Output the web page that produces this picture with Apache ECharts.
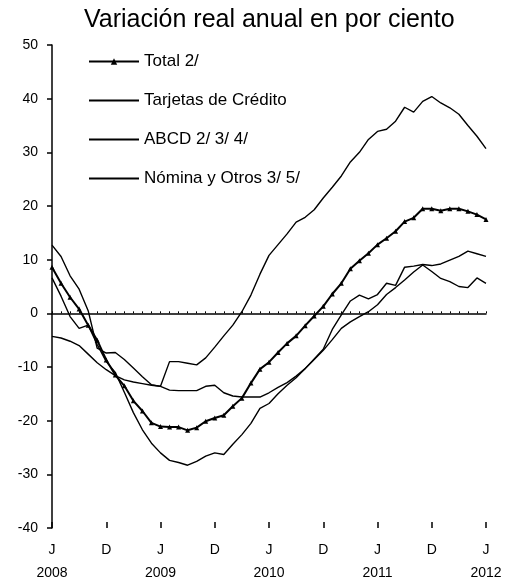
<!DOCTYPE html>
<html>
<head>
<meta charset="utf-8">
<script src="https://cdn.jsdelivr.net/npm/echarts@6/dist/echarts.min.js"></script>
<style>
  html, body { margin: 0; padding: 0; background: #fff; }
  #chart { width: 509px; height: 585px; }
</style>
</head>
<body>
<div id="chart"></div>
<script>
// meses: ene-2008 .. ene-2012 (49 observaciones)
var months = [];
for (var y = 2008; y <= 2012; y++) {
  for (var m = 1; m <= 12; m++) {
    if (y === 2012 && m > 1) break;
    months.push(y + '-' + (m < 10 ? '0' + m : m));
  }
}
var tickLabels = ['J\n2008', 'D', 'J\n2009', 'D', 'J\n2010', 'D', 'J\n2011', 'D', 'J\n2012'];
var yTicks = [-40, -30, -20, -10, 0, 10, 20, 30, 40, 50];

var total = [8.6, 5.6, 3.0, 0.8, -2.2, -5.0, -8.7, -11.5, -13.5, -16.3, -18.2, -20.4,
  -21.1, -21.2, -21.2, -21.8, -21.3, -20.1, -19.5, -19.0, -17.3, -15.8, -13.0, -10.4,
  -9.1, -7.3, -5.6, -4.2, -2.3, -0.5, 1.3, 3.6, 5.6, 8.3, 9.8, 11.2,
  12.8, 14.0, 15.3, 17.1, 17.8, 19.5, 19.5, 19.1, 19.5, 19.5, 19.0, 18.4, 17.5];
var tarjetas = [12.7, 10.6, 7.0, 4.5, 0.5, -6.5, -7.4, -7.3, -8.6, -10.2, -11.8, -13.3,
  -13.6, -9.0, -9.0, -9.3, -9.6, -8.3, -6.3, -4.2, -2.2, 0.3, 3.4, 7.3,
  10.8, 12.8, 14.8, 17.0, 17.9, 19.3, 21.5, 23.5, 25.6, 28.2, 30.0, 32.4,
  33.9, 34.3, 35.8, 38.4, 37.5, 39.5, 40.4, 39.2, 38.3, 37.1, 35.0, 33.0, 30.7];
var abcd = [6.6, 3.2, -0.6, -2.8, -2.2, -5.8, -9.0, -11.0, -14.7, -18.5, -21.7, -24.2,
  -26.0, -27.4, -27.8, -28.3, -27.6, -26.6, -26.0, -26.3, -24.4, -22.6, -20.5, -17.7,
  -16.8, -15.0, -13.4, -12.0, -10.3, -8.5, -6.7, -3.0, -0.3, 2.3, 3.4, 2.7,
  3.5, 5.6, 5.2, 8.6, 8.8, 9.1, 8.9, 9.2, 9.9, 10.6, 11.6, 11.1, 10.6];
var nomina = [-4.3, -4.6, -5.2, -6.0, -7.6, -9.2, -10.5, -11.6, -12.4, -12.8, -13.1, -13.4,
  -13.6, -14.3, -14.4, -14.4, -14.4, -13.6, -13.4, -14.8, -15.4, -15.6, -15.6, -15.6,
  -14.8, -13.8, -12.9, -11.7, -10.3, -8.6, -6.9, -4.9, -2.8, -1.6, -0.6, 0.3,
  1.6, 3.5, 4.8, 6.2, 7.7, 9.0, 7.8, 6.5, 5.9, 5.0, 4.8, 6.6, 5.6];

var legendNames = ['Total 2/', 'Tarjetas de Crédito', 'ABCD 2/ 3/ 4/', 'Nómina y Otros 3/ 5/'];

var myChart = echarts.init(document.getElementById('chart'));
var fontFam = 'Liberation Sans, Arial, sans-serif';

function lineSerie(name, data, width) {
  return {
    name: name,
    type: 'line',
    data: data,
    symbol: 'none',
    xAxisIndex: 1,
    lineStyle: { color: '#000', width: width },
    itemStyle: { color: '#000' },
    animation: false
  };
}

// leyenda: solo la línea en las series sin marcador
var legendData = legendNames.map(function (n, i) {
  return i === 0 ? { name: n } : { name: n, itemStyle: { opacity: 0 } };
});

var option = {
  backgroundColor: '#fff',
  title: {
    text: 'Variación real anual en por ciento',
    left: 84,
    top: 8,
    padding: 0,
    textStyle: { color: '#000', fontSize: 25, fontWeight: 'normal', fontFamily: fontFam }
  },
  legend: {
    orient: 'vertical',
    left: 88,
    top: 53,
    padding: 0,
    itemWidth: 50,
    itemHeight: 8,
    itemGap: 22,
    textStyle: { color: '#000', fontSize: 17, fontFamily: fontFam },
    data: legendData
  },
  grid: { left: 52, right: 23, top: 45, bottom: 56, containLabel: false },
  xAxis: [
    {
      type: 'category', data: months, boundaryGap: false, position: 'bottom',
      axisLine: { show: false, onZero: false },
      axisTick: { show: false },
      axisLabel: {
        interval: 5, margin: 11, color: '#000', fontSize: 14, lineHeight: 23,
        fontFamily: fontFam,
        formatter: function (v, idx) { return tickLabels[idx / 6] || ''; }
      },
      splitLine: { show: false }
    },
    {
      type: 'category', data: months, boundaryGap: false, position: 'bottom',
      axisLine: { show: true, onZero: true, lineStyle: { color: '#000', width: 1.5 } },
      axisTick: { show: true, inside: true, interval: 0, length: 2, lineStyle: { color: '#000' } },
      axisLabel: { show: false },
      splitLine: { show: false }
    },
    {
      type: 'category', data: months, boundaryGap: false, position: 'bottom',
      axisLine: { show: false, onZero: true },
      axisTick: { show: true, inside: true, interval: 5, length: 6, lineStyle: { color: '#000', width: 1.5 } },
      axisLabel: { show: false },
      splitLine: { show: false }
    }
  ],
  yAxis: {
    type: 'value', min: yTicks[0], max: yTicks[yTicks.length - 1], interval: 10,
    axisLine: { show: true, lineStyle: { color: '#000', width: 1.5 } },
    axisTick: { show: true, length: 5, lineStyle: { color: '#000', width: 1.5 } },
    axisLabel: { color: '#000', fontSize: 14, margin: 14, fontFamily: fontFam },
    splitLine: { show: false }
  },
  series: [
    {
      name: legendNames[0],
      type: 'line',
      data: total,
      xAxisIndex: 1,
      symbol: 'triangle',
      symbolSize: 5,
      showSymbol: true,
      showAllSymbol: true,
      lineStyle: { color: '#000', width: 2 },
      itemStyle: { color: '#000' },
      z: 5,
      animation: false
    },
    lineSerie(legendNames[1], tarjetas, 1.4),
    lineSerie(legendNames[2], abcd, 1.4),
    lineSerie(legendNames[3], nomina, 1.4)
  ]
};

myChart.setOption(option, true);
window.onresize = myChart.resize;
</script>
</body>
</html>
